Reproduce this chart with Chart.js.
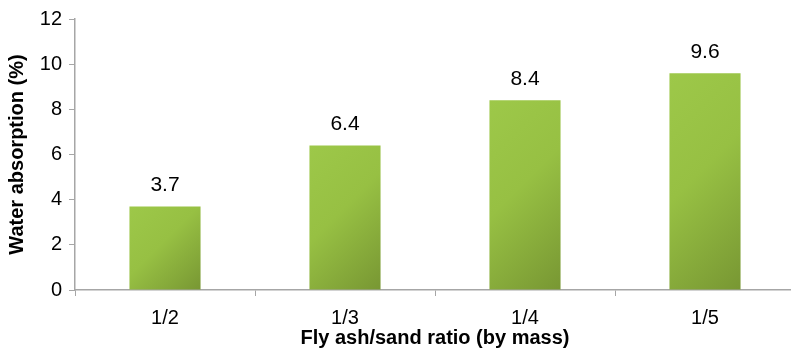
<!DOCTYPE html>
<html lang="en">
<head>
  <meta charset="UTF-8">
  <title>Water absorption</title>
  <script src="https://cdn.jsdelivr.net/npm/chart.js"></script>
  <style>
    html, body { margin: 0; padding: 0; background: #fff; overflow: hidden; }
    #wrap { width: 795px; height: 357px; position: relative; }
  </style>
</head>
<body>
  <div id="wrap"><canvas id="absorptionChart"></canvas></div>
  <script>
    // ratios and measured water absorption
    const ratios = ['1/2', '1/3', '1/4', '1/5'];
    const absorption = [3.7, 6.4, 8.4, 9.6];
    const yTicks = [0, 2, 4, 6, 8, 10, 12];

    const axisGrey = '#a6a6a6';
    const font = 'Liberation Sans, Arial, sans-serif';

    // diagonal green gradient per bar, like the spreadsheet fill
    const barGradient = {
      id: 'barGradient',
      beforeDatasetsDraw(chart) {
        const ctx = chart.ctx;
        chart.getDatasetMeta(0).data.forEach(bar => {
          const left = bar.x - bar.width / 2;
          const w = bar.width, h = bar.base - bar.y;
          const d = (w + h) / 2;
          const g = ctx.createLinearGradient(left, bar.y, left + d, bar.y + d);
          g.addColorStop(0, '#9dc849');
          g.addColorStop(0.45, '#97c043');
          g.addColorStop(1, '#789733');
          bar.options.backgroundColor = g;
        });
      }
    };

    // value labels above the bars
    const valueLabels = {
      id: 'valueLabels',
      afterDatasetsDraw(chart) {
        const ctx = chart.ctx;
        ctx.save();
        ctx.font = '21px ' + font;
        ctx.fillStyle = '#000';
        ctx.textAlign = 'center';
        ctx.textBaseline = 'alphabetic';
        chart.getDatasetMeta(0).data.forEach((bar, i) => {
          ctx.fillText(absorption[i].toFixed(1), bar.x, bar.y - 15);
        });
        ctx.restore();
      }
    };

    new Chart(document.getElementById('absorptionChart'), {
      type: 'bar',
      data: {
        labels: ratios,
        datasets: [{
          data: absorption,
          // scriptable so every bar keeps its own options object
          backgroundColor: () => '#97c043',
          borderWidth: 0,
          barPercentage: 0.395,
          categoryPercentage: 1
        }]
      },
      options: {
        responsive: true,
        maintainAspectRatio: false,
        animation: false,
        layout: { padding: { top: 12, right: 0, bottom: 0, left: 0 } },
        plugins: { legend: { display: false }, tooltip: { enabled: false } },
        scales: {
          x: {
            grid: { display: true, drawOnChartArea: false, drawTicks: true, tickLength: 6, color: axisGrey, offset: true },
            border: { color: axisGrey, width: 1.5 },
            ticks: { color: '#000', font: { family: font, size: 20 }, padding: 10 },
            title: { display: true, text: 'Fly ash/sand ratio (by mass)', color: '#000',
                     font: { family: font, size: 20, weight: 'bold' }, padding: { top: 0, bottom: 7 } },
            afterFit(scale) { scale.height = 67; }
          },
          y: {
            min: 0, max: 12,
            afterBuildTicks(scale) { scale.ticks = yTicks.map(v => ({ value: v })); },
            grid: { display: true, drawOnChartArea: false, drawTicks: true, tickLength: 6, color: axisGrey },
            border: { color: axisGrey, width: 1.5 },
            ticks: { color: '#000', font: { family: font, size: 20 }, padding: 7 },
            title: { display: true, text: 'Water absorption (%)', color: '#000',
                     font: { family: font, size: 20, weight: 'bold' }, padding: { top: 5, bottom: 0 } },
            afterFit(scale) { scale.width = 75; }
          }
        }
      },
      plugins: [barGradient, valueLabels]
    });
  </script>
</body>
</html>
